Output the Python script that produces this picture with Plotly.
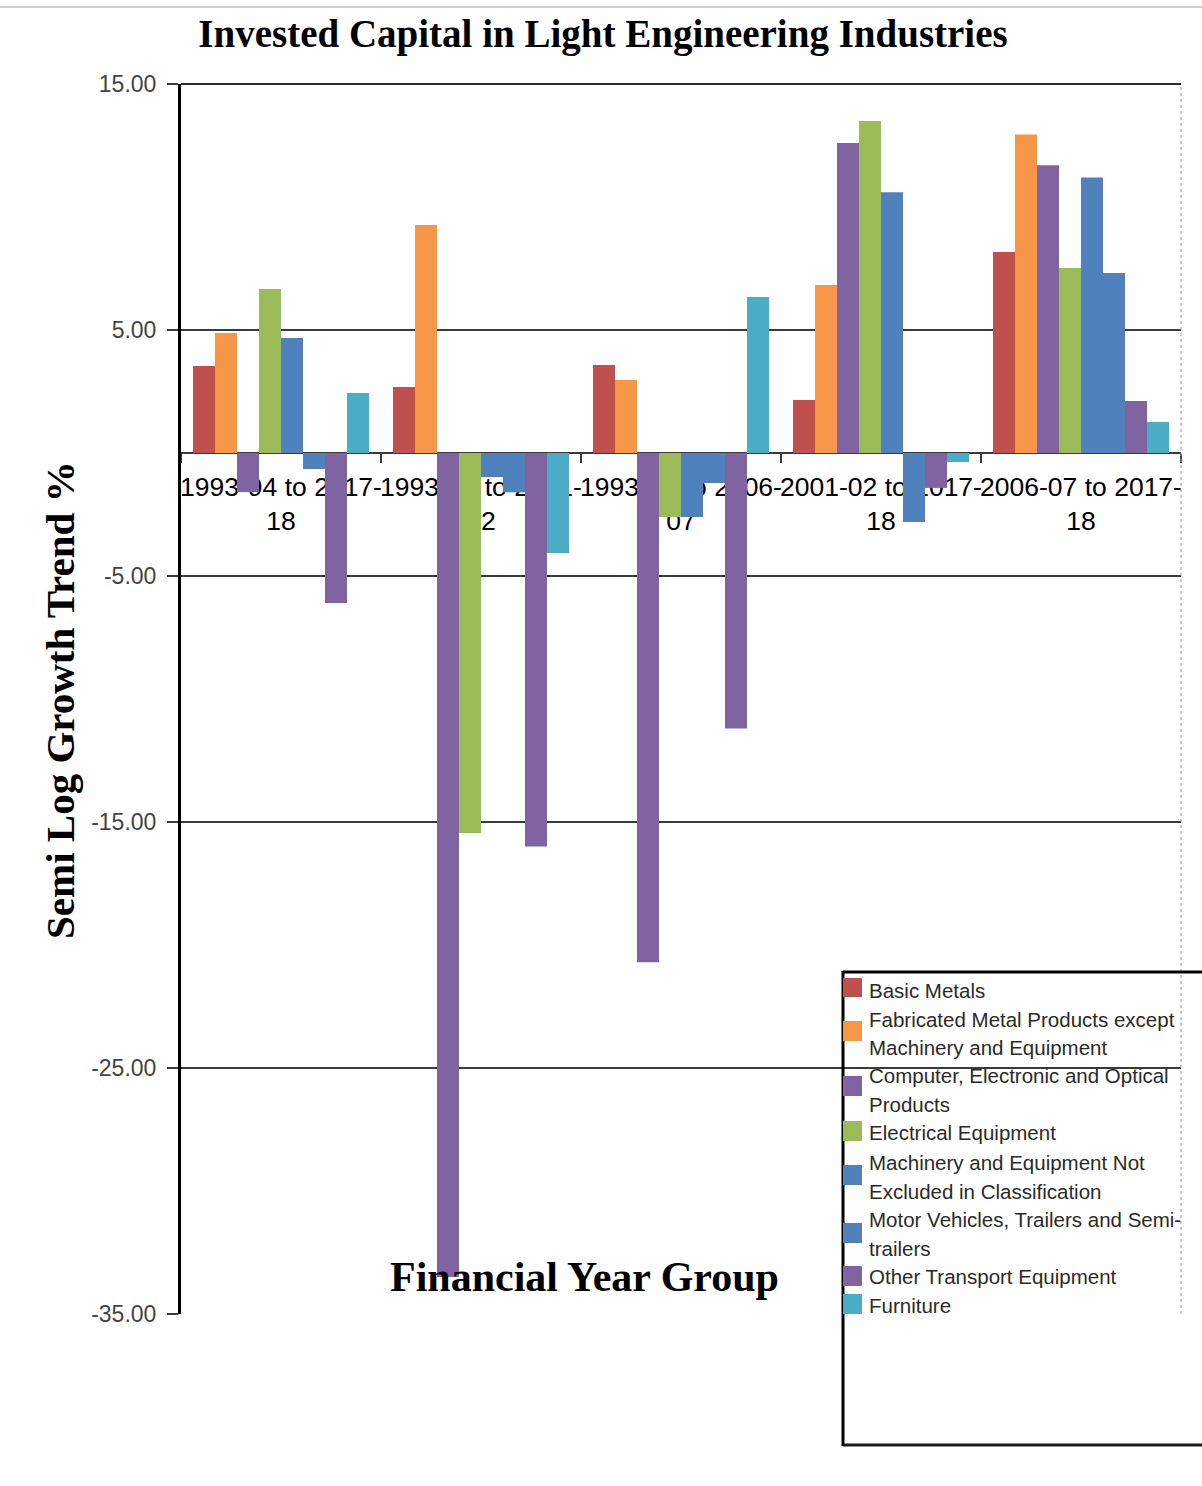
import plotly.graph_objects as go

# Financial-year groups (x categories)
categories = [
    "1993-94 to 2017-18",
    "1993-94 to 2001-02",
    "1993-94 to 2006-07",
    "2001-02 to 2017-18",
    "2006-07 to 2017-18",
]

# Industry series, in legend order
series_names = [
    "Basic Metals",
    "Fabricated Metal Products except Machinery and Equipment",
    "Computer, Electronic and Optical Products",
    "Electrical Equipment",
    "Machinery and Equipment Not Excluded in Classification",
    "Motor Vehicles, Trailers and Semi-trailers",
    "Other Transport Equipment",
    "Furniture",
]

# Legend labels as they wrap inside the legend box
legend_lines = [
    ["Basic Metals"],
    ["Fabricated Metal Products except", "Machinery and Equipment"],
    ["Computer, Electronic and Optical", "Products"],
    ["Electrical Equipment"],
    ["Machinery and Equipment Not", "Excluded in Classification"],
    ["Motor Vehicles, Trailers and Semi-", "trailers"],
    ["Other Transport Equipment"],
    ["Furniture"],
]

# Semi-log growth trend (%) per series, one value per category
basic_metals = [3.54, 2.68, 3.58, 2.15, 8.17]
fabricated_metal = [4.88, 9.27, 2.97, 6.83, 12.95]
computer_electronic = [-1.59, -33.5, -20.7, 12.6, 11.7]
electrical_equipment = [6.67, -15.45, -2.6, 13.5, 7.52]
machinery_equipment = [4.67, -0.98, -2.6, 10.6, 11.2]
motor_vehicles = [-0.65, -1.6, -1.22, -2.8, 7.32]
other_transport = [-6.1, -16.0, -11.2, -1.42, 2.11]
furniture = [2.44, -4.07, 6.34, -0.37, 1.26]

series_values = [
    basic_metals, fabricated_metal, computer_electronic, electrical_equipment,
    machinery_equipment, motor_vehicles, other_transport, furniture,
]

colors = ["#C0504D", "#F79646", "#8064A2", "#9BBB59",
          "#4F81BD", "#4F81BD", "#8064A2", "#4BACC6"]

y_ticks = [15, 5, -5, -15, -25, -35]
y_min, y_max = -35, 15

# Canvas and plot-area geometry (pixels)
W, H = 1202, 1486
L, R, T, B = 181, 21, 84, 172
PW, PH = W - L - R, H - T - B


def px_x(x):
    return (x - L) / PW


def px_y(y):
    return (H - B - y) / PH


def wrap_label(label):
    head, tail = label.rsplit("-", 1)
    return head + "-<br>" + tail


fig = go.Figure()
for name, vals, col in zip(series_names, series_values, colors):
    fig.add_trace(go.Bar(
        x=categories, y=vals, name=name,
        marker=dict(color=col, line=dict(width=0)),
        showlegend=False,
    ))

zero_pos = (0 - y_min) / (y_max - y_min)

fig.update_layout(
    width=W, height=H,
    margin=dict(l=L, r=R, t=T, b=B, autoexpand=False),
    paper_bgcolor="white", plot_bgcolor="white",
    barmode="group", bargap=0.12, bargroupgap=0,
    showlegend=False,
    title=dict(
        text="<b>Invested Capital in Light Engineering Industries</b>",
        x=(603 / W), xanchor="center", y=1 - 33 / H, yanchor="middle",
        font=dict(family="Liberation Serif", size=39, color="black"),
    ),
    xaxis=dict(
        type="category",
        tickmode="array", tickvals=categories,
        ticktext=[wrap_label(c) for c in categories],
        tickangle=0, automargin=False,
        anchor="free", position=zero_pos,
        showline=True, linecolor="#3a3a3a", linewidth=2,
        ticks="outside", tickson="boundaries", ticklen=9,
        tickcolor="#3a3a3a", tickwidth=2,
        ticklabelstandoff=10,
        tickfont=dict(family="Liberation Sans", size=26.5, color="black"),
        showgrid=False, layer="below traces",
    ),
    yaxis=dict(
        range=[y_min, y_max], automargin=False,
        tickmode="array", tickvals=y_ticks,
        ticktext=[f"{v:.2f}" for v in y_ticks],
        showline=True, linecolor="black", linewidth=3,
        ticks="outside", ticklen=11, tickcolor="#3a3a3a", tickwidth=2,
        ticklabelstandoff=6,
        tickfont=dict(family="Liberation Sans", size=23, color="#444444"),
        showgrid=True, gridcolor="#3a3a3a", gridwidth=2,
        zeroline=False,
    ),
)

shapes = [
    # thin rule across the top of the page
    dict(type="line", xref="paper", yref="paper",
         x0=px_x(0), x1=px_x(W), y0=px_y(7), y1=px_y(7),
         line=dict(color="#9a9a9a", width=1)),
    # plot-area top border
    dict(type="line", xref="paper", yref="paper",
         x0=0, x1=1, y0=1, y1=1, line=dict(color="#2a2a2a", width=2)),
    # plot-area right border (dotted)
    dict(type="line", xref="paper", yref="paper",
         x0=1, x1=1, y0=0, y1=1, line=dict(color="#9a9a9a", width=1, dash="dot")),
    # legend box (open on the right, runs off the page)
    dict(type="line", xref="paper", yref="paper",
         x0=px_x(843), x1=px_x(1210), y0=px_y(972), y1=px_y(972),
         line=dict(color="black", width=3)),
    dict(type="line", xref="paper", yref="paper",
         x0=px_x(843), x1=px_x(1210), y0=px_y(1445), y1=px_y(1445),
         line=dict(color="#1a1a1a", width=3)),
    dict(type="line", xref="paper", yref="paper",
         x0=px_x(843), x1=px_x(843), y0=px_y(971), y1=px_y(1446),
         line=dict(color="black", width=3)),
]

annotations = [
    dict(text="<b>Financial Year Group</b>", xref="paper", yref="paper",
         x=px_x(584), y=px_y(1277), xanchor="center", yanchor="middle",
         showarrow=False,
         font=dict(family="Liberation Serif", size=42, color="black")),
    dict(text="<b>Semi Log Growth Trend %</b>", xref="paper", yref="paper",
         x=px_x(60), y=px_y(700), xanchor="center", yanchor="middle",
         textangle=-90, showarrow=False,
         font=dict(family="Liberation Serif", size=41, color="black")),
]

# legend rows: line centres and swatch spans (pixels)
line_centres = [[990], [1019, 1047], [1075, 1104], [1132],
                [1162, 1191], [1219, 1248], [1276], [1305]]
swatch_spans = [(978, 997), (1021, 1041), (1076, 1096), (1121, 1141),
                (1165, 1185), (1223, 1243), (1266, 1286), (1294, 1314)]

for lines, centres, (s0, s1), col in zip(legend_lines, line_centres,
                                          swatch_spans, colors):
    shapes.append(dict(type="rect", xref="paper", yref="paper",
                       x0=px_x(843), x1=px_x(862), y0=px_y(s1), y1=px_y(s0),
                       fillcolor=col, line=dict(width=0)))
    for text, yc in zip(lines, centres):
        annotations.append(dict(
            text=text, xref="paper", yref="paper",
            x=px_x(867), y=px_y(yc), xanchor="left", yanchor="middle",
            showarrow=False,
            font=dict(family="Liberation Sans", size=20.5, color="#2a2a2a")))

fig.update_layout(shapes=shapes, annotations=annotations)

fig.write_html("out.html")
